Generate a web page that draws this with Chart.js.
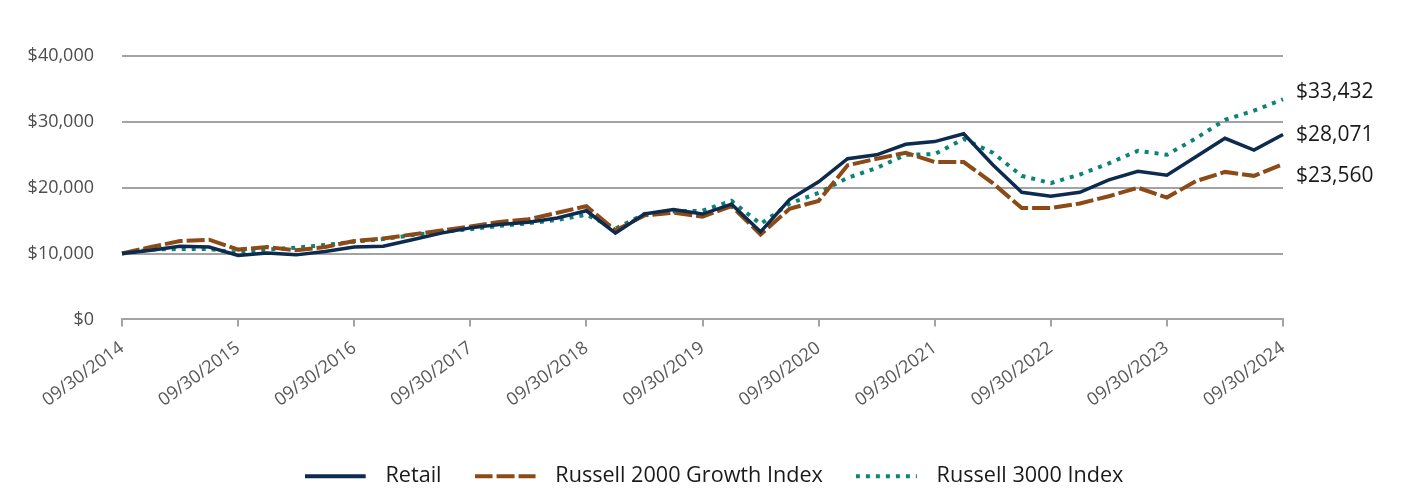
<!DOCTYPE html>
<html>
<head>
<meta charset="utf-8">
<script src="https://cdn.jsdelivr.net/npm/chart.js@4.4.1/dist/chart.umd.min.js"></script>
<style>
  html, body { margin:0; padding:0; background:#fff; }
  #wrap { width:1428px; height:492px; }
</style>
</head>
<body>
<div id="wrap"><canvas id="growthChart" width="1428" height="492"></canvas></div>
<script>
const quarters = [
  '09/30/2014','12/31/2014','03/31/2015','06/30/2015',
  '09/30/2015','12/31/2015','03/31/2016','06/30/2016',
  '09/30/2016','12/31/2016','03/31/2017','06/30/2017',
  '09/30/2017','12/31/2017','03/31/2018','06/30/2018',
  '09/30/2018','12/31/2018','03/31/2019','06/30/2019',
  '09/30/2019','12/31/2019','03/31/2020','06/30/2020',
  '09/30/2020','12/31/2020','03/31/2021','06/30/2021',
  '09/30/2021','12/31/2021','03/31/2022','06/30/2022',
  '09/30/2022','12/31/2022','03/31/2023','06/30/2023',
  '09/30/2023','12/31/2023','03/31/2024','06/30/2024',
  '09/30/2024'
];

const retail = [10000,10500,11100,11000, 9700,10100, 9800,10300,11000,11100,
                12100,13100,13900,14400,14750,15400,16500,13100,16000,16700,
                16000,17500,13300,18200,20900,24400,25000,26600,27000,28200,
                23500,19300,18700,19300,21200,22500,21900,24700,27500,25700,28071];

const russell2000g = [10000,11000,11900,12100,10600,11000,10500,11000,11900,12300,
                      12900,13500,14100,14800,15200,16200,17200,13500,15800,16200,
                      15600,17200,12900,16800,18000,23400,24400,25300,23900,23900,
                      20700,16900,16900,17600,18700,20000,18500,21000,22400,21800,23560];

const russell3000 = [10000,10600,10700,10700,10100,10600,10900,11300,11800,12200,
                     12800,13300,13700,14200,14600,15100,15900,13800,16000,16400,
                     16500,18000,14500,17600,19200,21500,23000,25000,25100,27400,
                     25300,21800,20700,22000,23700,25600,25000,27500,30300,31700,33432];

const seriesNames = ['Retail','Russell 2000 Growth Index','Russell 3000 Index'];
const yTicks = [0,10000,20000,30000,40000];

const font = 'Open Sans';
const gridGray = '#a3a3a3';

// legend swatch: a 61px line inside a 70px box, so the text sits a bit further off
const swatchW = 70, swatchLine = 61;
function swatch(color, dash) {
  const c = document.createElement('canvas');
  c.width = swatchW; c.height = 8;
  const g = c.getContext('2d');
  g.strokeStyle = color;
  g.lineWidth = 4;
  g.setLineDash(dash || []);
  g.beginPath(); g.moveTo(0, 4); g.lineTo(swatchLine, 4); g.stroke();
  return c;
}

// end-of-line value labels, nudged apart so they don't collide
const labelNudge = [0, 11.5, -7.5];
const endLabels = {
  id:'endLabels',
  afterDatasetsDraw(chart) {
    const {ctx, chartArea} = chart;
    ctx.save();
    ctx.font = `21px '${font}'`;
    ctx.fillStyle = '#1a1a1a';
    ctx.textBaseline = 'middle';
    ctx.textAlign = 'left';
    chart.data.datasets.forEach((ds, i) => {
      const meta = chart.getDatasetMeta(i);
      const pt = meta.data[meta.data.length - 1];
      const v = ds.data[ds.data.length - 1];
      ctx.fillText('$' + v.toLocaleString('en-US'), chartArea.right + 13, pt.y + labelNudge[i]);
    });
    ctx.restore();
  }
};

new Chart(document.getElementById('growthChart'), {
  type:'line',
  data:{
    labels:quarters,
    datasets:[
      {label:seriesNames[0], data:retail,       borderColor:'#0d2a4f', backgroundColor:'transparent', borderWidth:3.5, pointRadius:0, tension:0, order:1},
      {label:seriesNames[1], data:russell2000g, borderColor:'#8b4a16', backgroundColor:'transparent', borderWidth:4, borderDash:[18,4], pointRadius:0, tension:0, order:2},
      {label:seriesNames[2], data:russell3000,  borderColor:'#0b8377', backgroundColor:'transparent', borderWidth:4, borderDash:[4,6], pointRadius:0, tension:0, order:3},
    ]
  },
  options:{
    responsive:false,
    animation:false,
    layout:{padding:{top:56, right:0, left:0, bottom:-5}},
    plugins:{
      tooltip:{enabled:false},
      legend:{
        position:'bottom',
        labels:{
          font:{family:font, size:21.6}, color:'#1a1a1a',
          usePointStyle:true, pointStyleWidth:swatchW,
          padding:33,
          generateLabels(chart){
            const items = Chart.defaults.plugins.legend.labels.generateLabels(chart);
            items.forEach(it => {
              const ds = chart.data.datasets[it.datasetIndex];
              it.pointStyle = swatch(ds.borderColor, ds.borderDash);
            });
            return items;
          }
        }
      }
    },
    scales:{
      x:{
        afterFit(s){ s.height = 113; },
        grid:{drawOnChartArea:false, drawTicks:true, tickLength:7, lineWidth:2,
              color:c => (c.index % 4 === 0 ? gridGray : 'transparent')},
        border:{display:true, color:gridGray, width:2},
        ticks:{
          autoSkip:false, minRotation:36, maxRotation:36, padding:11,
          font:{family:font, size:18}, color:'#595959',
          callback:(v, i) => (i % 4 === 0 ? quarters[i] : '')
        }
      },
      y:{
        min:0, max:40000,
        afterFit(s){ s.width = 122; },
        afterBuildTicks(s){ s.ticks = yTicks.map(v => ({value:v})); },
        grid:{color:gridGray, lineWidth:2, drawTicks:false},
        border:{display:false},
        ticks:{
          padding:28, font:{family:font, size:18}, color:'#4d4d4d',
          callback:v => '$' + v.toLocaleString('en-US')
        }
      },
      // empty right-hand gutter that holds the end-of-line labels
      yR:{
        position:'right',
        afterFit(s){ s.width = 145; },
        grid:{display:false},
        border:{display:false},
        ticks:{display:false}
      }
    }
  },
  plugins:[endLabels]
});
</script>
</body>
</html>
